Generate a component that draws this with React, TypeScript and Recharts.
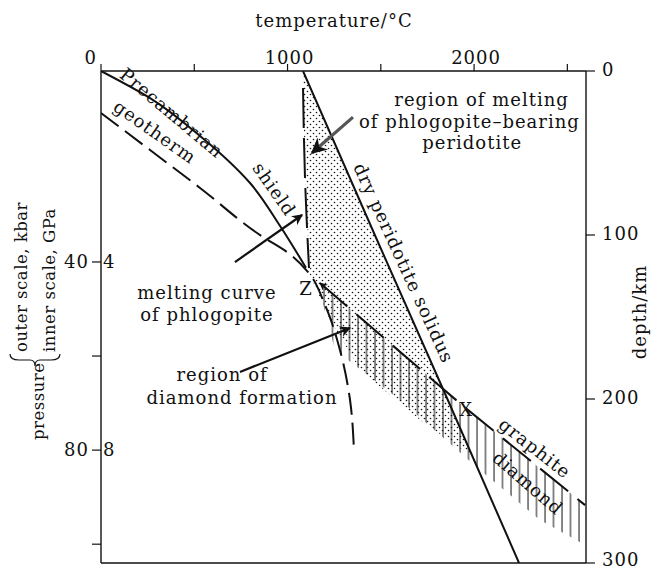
import React from "react";
import { ComposedChart, XAxis, YAxis, Scatter, ReferenceDot } from "recharts";

// temperature in °C (top scale), depth in km (right scale), pressure in kbar (left)
const tempTicks = [0, 500, 1000, 1500, 2000, 2500];
const tempLabelled = [0, 1000, 2000];
const depthTicks = [0, 100, 200, 300];
const kbarTicks = [40, 60, 80, 100];
const kbarLabelled = [40, 80];
const gpaLabels: Record<number, string> = { 40: "4", 80: "8" };

const drySolidus = [
  { t: 1083, d: 0 }, { t: 1468, d: 100 }, { t: 1857, d: 200 }, { t: 2241, d: 300 },
];
const shieldGeotherm = [
  { t: 0, d: 0 }, { t: 263, d: 16.5 }, { t: 531, d: 39.6 }, { t: 799, d: 68.3 },
  { t: 960, d: 94.5 }, { t: 1099, d: 120 },
];
const dashedGeotherm = [
  { t: 0, d: 25.6 }, { t: 263, d: 48.2 }, { t: 531, d: 71.3 }, { t: 868, d: 101.2 },
  { t: 997, d: 110.4 }, { t: 1110, d: 122.6 }, { t: 1201, d: 142.7 }, { t: 1281, d: 170.1 },
  { t: 1335, d: 200.6 }, { t: 1356, d: 231 },
];
const phlogopiteMelting = [
  { t: 1083, d: 10.4 }, { t: 1094, d: 66.5 }, { t: 1115, d: 120.1 },
];
const graphiteDiamond = [
  { t: 1174, d: 129.3 }, { t: 1935, d: 203.7 }, { t: 2595, d: 264.7 },
];
const meltingRegion = [
  { t: 1083, d: 0 }, { t: 1468, d: 100 }, { t: 1857, d: 200 }, { t: 1989, d: 235 },
  { t: 1710, d: 212.8 }, { t: 1389, d: 182.3 }, { t: 1228, d: 151.8 }, { t: 1120, d: 124.4 },
  { t: 1094, d: 66.5 }, { t: 1083, d: 10 },
];
const diamondRegion = [
  { t: 1174, d: 129.3 }, { t: 1935, d: 203.7 }, { t: 2595, d: 264.7 }, { t: 2595, d: 289 },
  { t: 2353, d: 273.8 }, { t: 2032, d: 243.3 }, { t: 1603, d: 200.6 }, { t: 1254, d: 170.1 },
  { t: 1185, d: 139.6 },
];
const meltArrow = [{ t: 1351, d: 28.1 }, { t: 1131, d: 50 }];
const phlogArrow = [{ t: 718, d: 116.5 }, { t: 1078, d: 87.8 }];
const diamondArrow = [{ t: 745, d: 183.5 }, { t: 1335, d: 156.7 }];

const notes = [
  { text: "Precambrian", t: 380, d: 25.5, rot: 40 },
  { text: "shield", t: 930, d: 72, rot: 55 },
  { text: "geotherm", t: 290, d: 37, rot: 35 },
  { text: "region of melting", t: 2040, d: 17.1, rot: 0 },
  { text: "of phlogopite\u2013bearing", t: 1975, d: 30.5, rot: 0 },
  { text: "peridotite", t: 1990, d: 43.9, rot: 0 },
  { text: "dry peridotite solidus", t: 1624, d: 117.1, rot: 65.5 },
  { text: "melting curve", t: 568, d: 134.8, rot: 0 },
  { text: "of phlogopite", t: 568, d: 148.2, rot: 0 },
  { text: "Z", t: 1099, d: 132.9, rot: 0 },
  { text: "region of", t: 649, d: 184.8, rot: 0 },
  { text: "diamond formation", t: 756, d: 198.8, rot: 0 },
  { text: "X", t: 1957, d: 206.7, rot: 0 },
  { text: "graphite", t: 2327, d: 229.9, rot: 38 },
  { text: "diamond", t: 2289, d: 251.2, rot: 41 },
];

const FONT = "DejaVu Serif";
const FS = 18;
const LS = 1;
const INK = "#111";

const noDot = () => <g />;

const pathOf = (pts: { x: number; y: number }[], close: boolean) =>
  pts.map((p, i) => `${i ? "L" : "M"}${p.x},${p.y}`).join(" ") + (close ? " Z" : "");

const polygon = (fill: string) => (props: any) => (
  <path d={pathOf(props.points || [], true)} fill={fill} stroke="none" />
);

const arrow = (stroke: string, width: number) => (props: any) => (
  <path d={pathOf(props.points || [], false)} fill="none" stroke={stroke}
    strokeWidth={width} markerEnd="url(#head)" />
);

const boundary = (props: any) => (
  <path d={pathOf(props.points || [], false)} fill="none" stroke={INK} strokeWidth={2}
    strokeDasharray="36 12" markerStart="url(#headBack)" />
);

const TopTick = (props: any) => {
  const { x, y, payload } = props;
  if (!tempLabelled.includes(payload.value)) return <g />;
  const zero = payload.value === 0;
  return (
    <text x={zero ? x - 4 : x + 2} y={y} textAnchor={zero ? "end" : "middle"}
      fontFamily={FONT} fontSize={FS} letterSpacing={LS} fill={INK}>{payload.value}</text>
  );
};

const RightTick = (props: any) => {
  const { x, y, payload } = props;
  return (
    <text x={x} y={y + (payload.value === 300 ? 3 : 5)} textAnchor="start" fontFamily={FONT}
      fontSize={FS} letterSpacing={LS} fill={INK}>{payload.value}</text>
  );
};

const LeftTick = (props: any) => {
  const { x, y, payload } = props;
  if (!kbarLabelled.includes(payload.value)) return <g />;
  return (
    <g fontFamily={FONT} fontSize={FS} letterSpacing={LS} fill={INK}>
      <text x={x} y={y + 6} textAnchor="end">{payload.value}</text>
      <text x={x + 14} y={y + 6} textAnchor="start">{gpaLabels[payload.value]}</text>
    </g>
  );
};

const PressureTitle = () => (
  <g transform="translate(0,440) rotate(-90)" fontFamily={FONT} fontSize={16.5}
    letterSpacing={0.5} fill={INK}>
    <text x={0} y={44}>pressure</text>
    <path d="M86,10 Q80,10 80,19 L80,30 Q80,35 74,35 Q80,35 80,40 L80,51 Q80,60 86,60"
      fill="none" stroke={INK} strokeWidth={1.2} />
    <text x={88} y={27}>outer scale, kbar</text>
    <text x={88} y={55}>inner scale, GPa</text>
  </g>
);

const TempTitle = () => (
  <text x={334} y={27} textAnchor="middle" fontFamily={FONT} fontSize={FS}
    letterSpacing={LS} fill={INK}>temperature/°C</text>
);

const DepthTitle = () => (
  <text transform="translate(646,312) rotate(-90)" textAnchor="middle"
    fontFamily={FONT} fontSize={FS} letterSpacing={LS} fill={INK}>depth/km</text>
);

export default function App() {
  const axisLine = { stroke: INK, strokeWidth: 1.4 };
  const tickLine = { stroke: INK, strokeWidth: 1.2 };
  return (
    <div style={{ position: "absolute", left: 0, top: 0, background: "#fff" }}>
      <ComposedChart width={656} height={570} margin={{ top: 0, right: 0, bottom: 0, left: 0 }}>
        <defs>
          <pattern id="stipple" patternUnits="userSpaceOnUse" width={6} height={6}>
            <circle cx={1.5} cy={1.5} r={0.8} fill={INK} />
            <circle cx={4.5} cy={4.5} r={0.8} fill={INK} />
          </pattern>
          <pattern id="hatch" patternUnits="userSpaceOnUse" width={8.5} height={10}>
            <line x1={1} y1={0} x2={1} y2={10} stroke={INK} strokeWidth={1} />
          </pattern>
          <marker id="head" viewBox="0 0 10 10" refX={9} refY={5} markerWidth={5}
            markerHeight={5} orient="auto" markerUnits="strokeWidth">
            <path d="M0,0 L10,5 L0,10 L3,5 Z" fill={INK} />
          </marker>
          <marker id="headBack" viewBox="0 0 10 10" refX={1} refY={5} markerWidth={4}
            markerHeight={4} orient="auto" markerUnits="strokeWidth">
            <path d="M10,0 L0,5 L10,10 L7,5 Z" fill={INK} />
          </marker>
        </defs>
        <XAxis xAxisId="top" orientation="top" type="number" dataKey="t" domain={[0, 2600]}
          allowDataOverflow ticks={tempTicks} interval={0} height={71} tickSize={7} tickMargin={0}
          axisLine={axisLine} tickLine={tickLine} tick={<TopTick />} label={<TempTitle />} />
        <XAxis xAxisId="bottom" orientation="bottom" type="number" dataKey="t" domain={[0, 2600]}
          allowDataOverflow ticks={tempTicks} interval={0} height={7} tickSize={6}
          axisLine={axisLine} tickLine={tickLine} tick={false} />
        <YAxis yAxisId="p" orientation="left" type="number" domain={[-0.6, 104]} reversed
          allowDataOverflow ticks={kbarTicks} interval={0} width={101} tickSize={9} tickMargin={3}
          axisLine={axisLine} tickLine={tickLine} tick={<LeftTick />} label={<PressureTitle />} />
        <YAxis yAxisId="depth" orientation="right" type="number" dataKey="d" domain={[0, 300]}
          reversed allowDataOverflow ticks={depthTicks} interval={0} width={70} tickSize={9}
          tickMargin={7} axisLine={axisLine} tickLine={tickLine} tick={<RightTick />}
          label={<DepthTitle />} />

        <Scatter xAxisId="top" yAxisId="depth" data={meltingRegion} shape={noDot}
          line={polygon("url(#stipple)")} isAnimationActive={false} />
        <Scatter xAxisId="top" yAxisId="depth" data={diamondRegion} shape={noDot}
          line={polygon("url(#hatch)")} isAnimationActive={false} />
        <Scatter xAxisId="top" yAxisId="depth" data={drySolidus} shape={noDot}
          line={{ stroke: INK, strokeWidth: 2 }} isAnimationActive={false} />
        <Scatter xAxisId="top" yAxisId="depth" data={shieldGeotherm} shape={noDot}
          line={{ stroke: INK, strokeWidth: 2 }} lineJointType="monotoneY" isAnimationActive={false} />
        <Scatter xAxisId="top" yAxisId="depth" data={dashedGeotherm} shape={noDot}
          line={{ stroke: INK, strokeWidth: 2, strokeDasharray: "22 8" }} lineJointType="monotoneY"
          isAnimationActive={false} />
        <Scatter xAxisId="top" yAxisId="depth" data={phlogopiteMelting} shape={noDot}
          line={{ stroke: INK, strokeWidth: 2, strokeDasharray: "40 10" }} lineJointType="monotoneY"
          isAnimationActive={false} />
        <Scatter xAxisId="top" yAxisId="depth" data={graphiteDiamond} shape={noDot}
          line={boundary} isAnimationActive={false} />
        <Scatter xAxisId="top" yAxisId="depth" data={meltArrow} shape={noDot}
          line={arrow("#555", 3.2)} isAnimationActive={false} />
        <Scatter xAxisId="top" yAxisId="depth" data={phlogArrow} shape={noDot}
          line={arrow(INK, 2.2)} isAnimationActive={false} />
        <Scatter xAxisId="top" yAxisId="depth" data={diamondArrow} shape={noDot}
          line={arrow(INK, 2.2)} isAnimationActive={false} />

        {notes.map((n) => (
          <ReferenceDot key={n.text} xAxisId="top" yAxisId="depth" x={n.t} y={n.d} r={1}
            ifOverflow="visible"
            shape={(p: any) => (
              <text x={p.cx} y={p.cy} textAnchor="middle" dominantBaseline="central"
                transform={n.rot ? `rotate(${n.rot} ${p.cx} ${p.cy})` : undefined}
                fontFamily={FONT} fontSize={FS} letterSpacing={LS} fill={INK}>{n.text}</text>
            )} />
        ))}
      </ComposedChart>
    </div>
  );
}
